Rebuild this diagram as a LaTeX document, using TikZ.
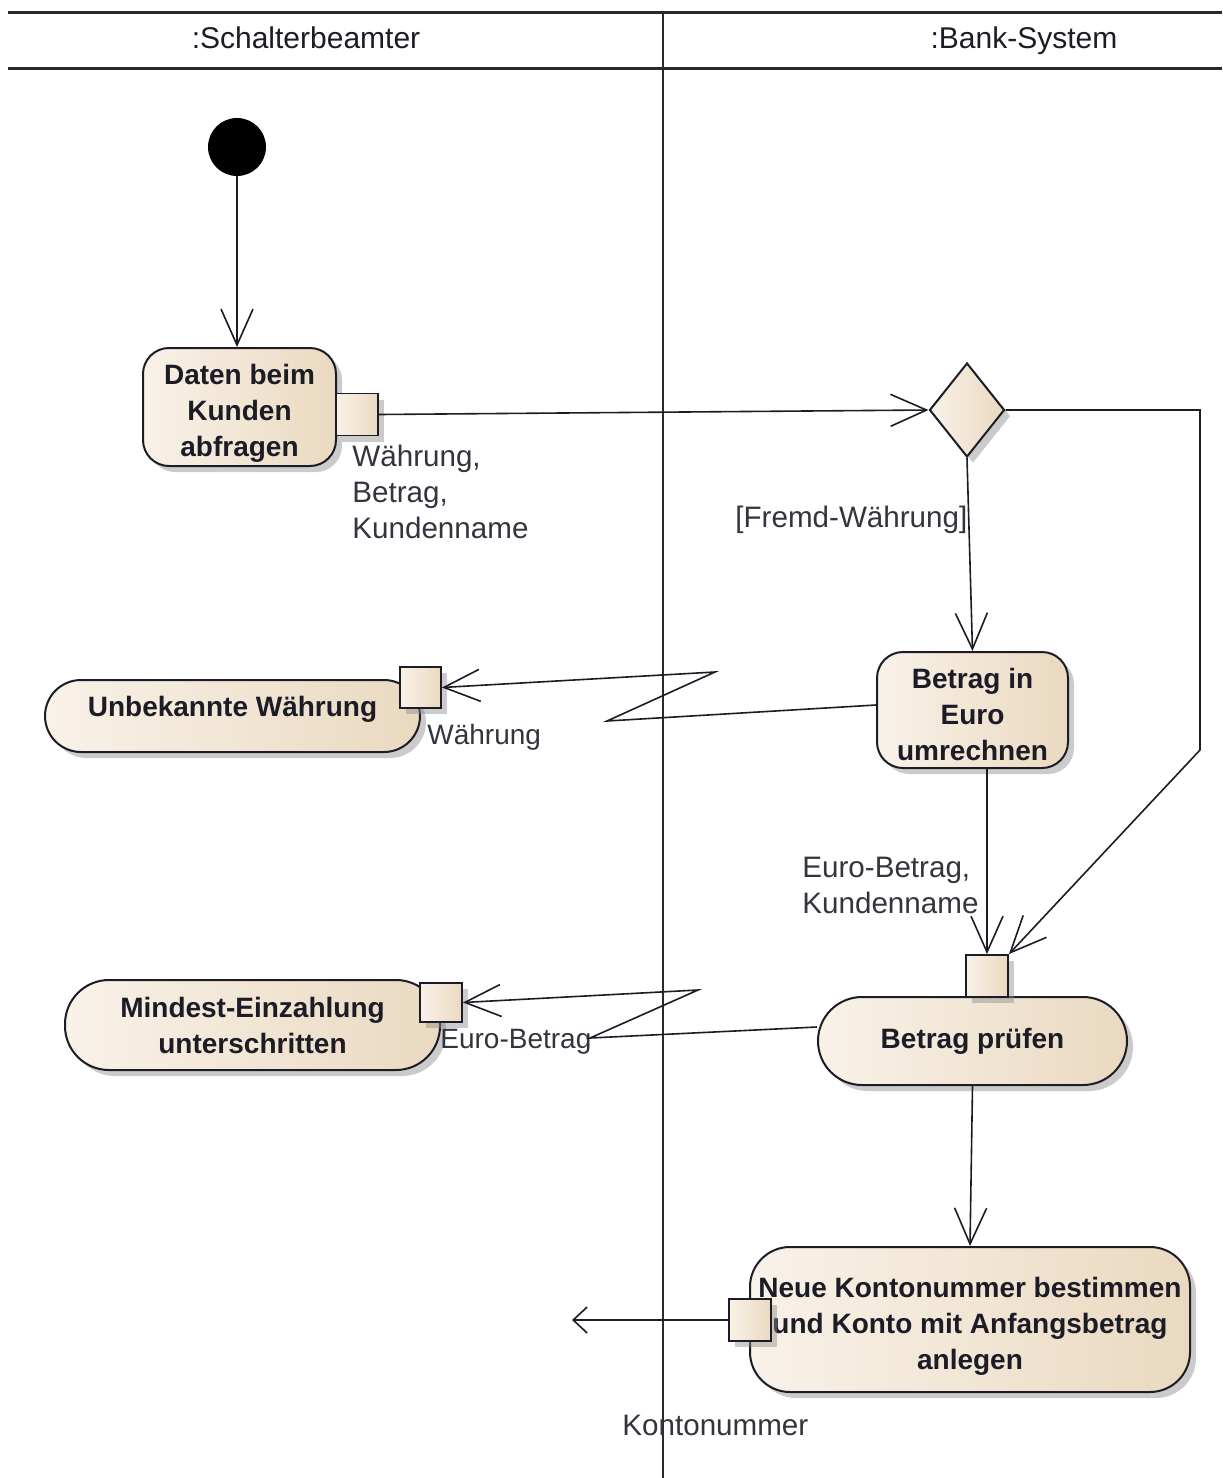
\documentclass[tikz,border=0pt]{standalone}
\usepackage{fontspec}
\setmainfont{Liberation Sans}
\usetikzlibrary{arrows.meta,shapes.geometric,shadows,calc}
\definecolor{beigeL}{HTML}{F9F2E9}
\definecolor{beigeR}{HTML}{EAD9C0}
\definecolor{ink}{HTML}{1C1C26}
\definecolor{lbltxt}{HTML}{34343E}
\definecolor{rule}{HTML}{2A2A2A}

\begin{document}
\begin{tikzpicture}[x=0.5pt,y=-0.5pt,
  flow/.style={line width=0.8pt, draw=ink,
    -{Straight Barb[length=18pt,width=16pt,line width=0.8pt]}},
  shade/.style={drop shadow={shadow xshift=3pt,shadow yshift=-3pt,
    fill=black!45,opacity=0.45}},
  act/.style={draw=ink, line width=1pt, left color=beigeL, right color=beigeR,
    align=center, font=\bfseries\fontsize{14}{18}\selectfont, text=ink,
    inner sep=0pt, shade},
  pinbox/.style={draw=ink, line width=0.9pt, left color=beigeL, right color=beigeR,
    minimum width=21pt, minimum height=21pt, inner sep=0pt, shade},
  lbl/.style={font=\fontsize{14.8}{18}\selectfont, text=lbltxt, inner sep=0pt,
    align=left},
  pinlbl/.style={lbl, font=\fontsize{14}{18}\selectfont},
  lanehead/.style={font=\fontsize{15}{18}\selectfont, text=ink, inner sep=0pt}
]
\useasboundingbox (0,0) rectangle (1222,1478);
\fill[white] (0,0) rectangle (1222,1478);

% swimlane frame
\draw[rule, line width=1.5pt] (8,12) -- (1222,12);
\draw[rule, line width=1.5pt] (8,68) -- (1222,68);
\draw[rule, line width=1.1pt] (663,12) -- (663,1478);
\node[lanehead, anchor=base] (laneA) at (306,48) {:Schalterbeamter};
\node[lanehead, anchor=base] (laneB) at (1024,48) {:Bank-System};

% initial node
\node[circle, fill=black, minimum size=29pt, inner sep=0pt] (init) at (237,147) {};

% actions
\node[act, rounded corners=13pt, minimum width=96.5pt, minimum height=59pt]
  (daten) at (239.5,407) {\rule{0pt}{16.2pt}Daten beim\\Kunden\\abfragen};
\node[diamond, aspect=0.8, draw=ink, line width=1pt, left color=beigeL,
  right color=beigeR, minimum width=37.5pt, minimum height=47pt, inner sep=0pt, shade]
  (dec) at (967,410) {};
\node[act, rounded corners=13pt, minimum width=95.5pt, minimum height=58pt]
  (euro) at (972.5,710) {\rule{0pt}{14.2pt}Betrag in\\Euro\\umrechnen};
\node[act, rounded corners=18pt, minimum width=187.5pt, minimum height=36pt]
  (unbek) at (232.5,716) {\raisebox{3.5pt}[\height][\depth]{Unbekannte Währung}};
\node[act, rounded corners=22pt, minimum width=154.5pt, minimum height=44pt]
  (pruef) at (972.5,1041) {Betrag prüfen};
\node[act, rounded corners=22pt, minimum width=187.5pt, minimum height=45pt]
  (mindest) at (252.5,1025) {Mindest-Einzahlung\\unterschritten};
\node[act, rounded corners=20pt, minimum width=220pt, minimum height=72.5pt]
  (neue) at (970,1319.5)
  {\rule{0pt}{17.2pt}Neue Kontonummer bestimmen\\und Konto mit Anfangsbetrag\\anlegen};

% pins
\node[pinbox] (pin1) at (357,414.5) {};
\node[pinbox, minimum width=20.5pt, minimum height=20.5pt] (pin2) at (420.5,687.5) {};
\node[pinbox] (pin3) at (987,976) {};
\node[pinbox, minimum width=21pt, minimum height=19.5pt] (pin4) at (441,1002.5) {};
\node[pinbox] (pin5) at (750,1320) {};

% pin and guard labels
\node[lbl, anchor=west] (l1) at (352,492) {Währung,\\Betrag,\\Kundenname};
\node[lbl, anchor=west] (l2) at (735,520) {[Fremd-Währung]};
\node[pinlbl, anchor=west] (l3) at (427,737) {Währung};
\node[lbl, anchor=west] (l4) at (802,885) {Euro-Betrag,\\Kundenname};
\node[pinlbl, anchor=west] (l5) at (440,1042) {Euro-Betrag};
\node[lbl, anchor=west] (l6) at (622,1425) {Kontonummer};

% bend points
\coordinate (b1) at (1200,750);
\coordinate (z1) at (607,721);
\coordinate (z2) at (715,672);
\coordinate (z3) at (590,1038);
\coordinate (z4) at (698,990);
\coordinate (kend) at (572,1320);

% flows
\draw[flow] (init) -- (init |- daten.north);
\draw[flow] (pin1.east) -- (dec.west);
\draw[flow] (dec.east) -| (b1) -- (pin3.north east);
\draw[flow] (dec.south) -- (euro.north);
\draw[flow] ([yshift=2.5pt]euro.west) -- (z1) -- (z2) -- (pin2.east);
\draw[flow] (euro.south -| pin3.north) -- (pin3.north);
\draw[flow] ([yshift=7pt]pruef.west) -- (z3) -- (z4) -- (pin4.east);
\draw[flow] (pruef.south) -- (neue.north);
\draw[line width=0.8pt, draw=ink,
  -{Straight Barb[length=7pt,width=13pt,line width=0.8pt]}] (pin5.west) -- (kend);
\end{tikzpicture}
\end{document}
